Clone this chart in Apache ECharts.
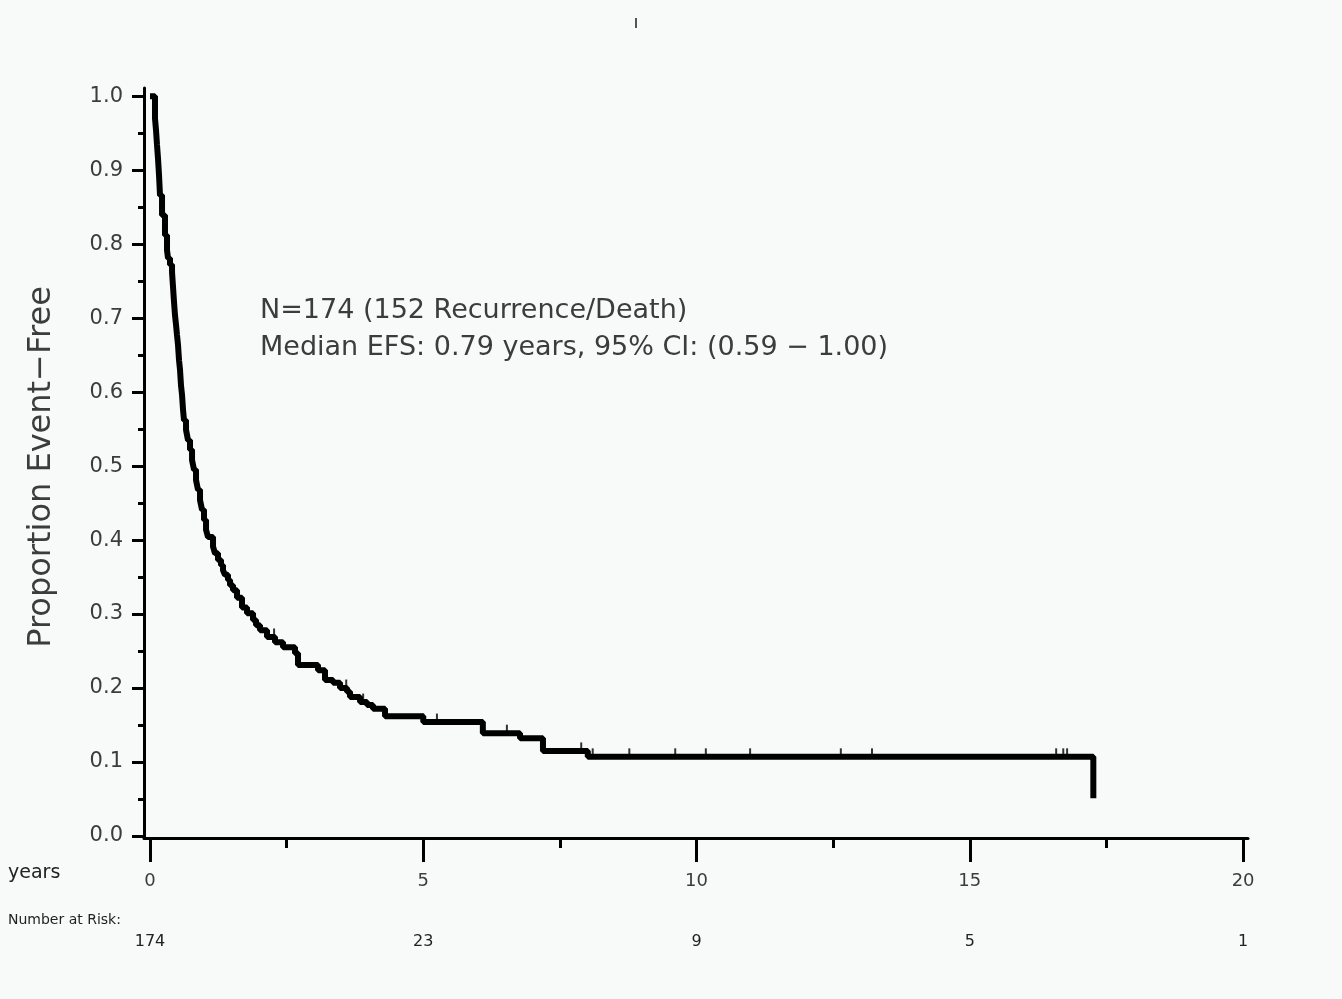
<!DOCTYPE html>
<html>
<head>
<meta charset="utf-8">
<title>Event-free survival</title>
<script src="https://cdn.jsdelivr.net/npm/echarts@6/dist/echarts.min.js"></script>
<style>
html, body { margin: 0; padding: 0; background: #f7faf8; }
#chart { width: 1342px; height: 999px; }
</style>
</head>
<body>
<div id="chart"></div>
<script>
// Kaplan-Meier steps (years, proportion event-free)
const eventTimes = [0, 0.091, 0.110, 0.128, 0.146, 0.165, 0.183, 0.220, 0.274, 0.311, 0.329, 0.366, 0.403, 0.421, 0.439, 0.457, 0.476, 0.494, 0.512, 0.531, 0.549, 0.567, 0.586, 0.604, 0.622, 0.659, 0.695, 0.732, 0.769, 0.805, 0.842, 0.878, 0.915, 0.951, 0.988, 1.025, 1.061, 1.153, 1.189, 1.244, 1.299, 1.336, 1.372, 1.427, 1.464, 1.519, 1.592, 1.683, 1.775, 1.885, 1.940, 2.013, 2.141, 2.287, 2.434, 2.653, 2.708, 3.074, 3.202, 3.349, 3.477, 3.605, 3.660, 3.843, 3.971, 4.080, 4.300, 5.00, 6.09, 6.77, 7.19, 8.01, 17.26]
const survival = [1.0, 0.970, 0.954, 0.934, 0.916, 0.893, 0.866, 0.839, 0.812, 0.792, 0.781, 0.772, 0.762, 0.742, 0.722, 0.704, 0.691, 0.677, 0.664, 0.643, 0.630, 0.609, 0.596, 0.576, 0.562, 0.549, 0.535, 0.522, 0.508, 0.495, 0.481, 0.468, 0.454, 0.441, 0.427, 0.414, 0.404, 0.391, 0.382, 0.373, 0.366, 0.359, 0.353, 0.346, 0.339, 0.332, 0.322, 0.309, 0.301, 0.292, 0.285, 0.278, 0.269, 0.262, 0.255, 0.247, 0.231, 0.224, 0.211, 0.207, 0.200, 0.195, 0.188, 0.181, 0.177, 0.172, 0.162, 0.154, 0.139, 0.132, 0.115, 0.107, 0.051]
const censorTimes = [2.27, 3.59, 3.90, 5.00, 5.25, 6.53, 7.89, 8.10, 8.77, 9.61, 10.17, 10.98, 12.64, 13.21, 16.58, 16.71, 16.78]

const xTicks = [0, 5, 10, 15, 20]
const xMinorTicks = [2.5, 7.5, 12.5, 17.5]
const yTicks = [0, 0.1, 0.2, 0.3, 0.4, 0.5, 0.6, 0.7, 0.8, 0.9, 1.0]
const yMinorTicks = [0.05, 0.15, 0.25, 0.35, 0.45, 0.55, 0.65, 0.75, 0.85, 0.95]
const atRisk = [174, 23, 9, 5, 1]

const textColor = '#3c3c3c'
const font = 'DejaVu Sans'

// value of the step curve at time t
function survAt (t) {
  let s = survival[0]
  for (let i = 0; i < eventTimes.length; i++) {
    if (eventTimes[i] <= t) s = survival[i]
  }
  return s
}

const chart = echarts.init(document.getElementById('chart'))
chart.setOption({
  animation: false,
  backgroundColor: '#f7faf8',
  grid: {
    left: 144,
    right: 94,
    top: 88,
    bottom: 161,
    containLabel: false,
    outerBoundsMode: 'none'
  },
  xAxis: [{
    type: 'value',
    min: -0.11,
    max: 20.09,
    position: 'bottom',
    splitLine: { show: false },
    axisLine: { onZero: false, lineStyle: { color: '#000', width: 3 } },
    axisTick: { customValues: xTicks, length: 24, lineStyle: { color: '#000', width: 3 } },
    axisLabel: {
      customValues: xTicks,
      margin: 34,
      color: textColor,
      fontFamily: font,
      fontSize: 18
    }
  }, {
    type: 'value',
    min: -0.11,
    max: 20.09,
    position: 'bottom',
    splitLine: { show: false },
    axisLine: { show: false, onZero: false },
    axisTick: { customValues: xMinorTicks, length: 10, lineStyle: { color: '#000', width: 3 } },
    axisLabel: { show: false }
  }, {
    type: 'value',
    min: -0.11,
    max: 20.09,
    position: 'bottom',
    offset: 88,
    splitLine: { show: false },
    axisLine: { show: false, onZero: false },
    axisTick: { show: false },
    axisLabel: {
      customValues: xTicks,
      margin: 8,
      color: '#222',
      fontFamily: font,
      fontSize: 16,
      formatter: v => String(atRisk[xTicks.indexOf(v)])
    }
  }],
  yAxis: [{
    type: 'value',
    min: -0.0027,
    max: 1.011,
    splitLine: { show: false },
    axisLine: { show: true, onZero: false, lineStyle: { color: '#000', width: 3 } },
    axisTick: { show: true, customValues: yTicks, length: 12, lineStyle: { color: '#000', width: 3 } },
    axisLabel: {
      customValues: yTicks,
      margin: 21,
      color: textColor,
      fontFamily: font,
      fontSize: 21,
      formatter: v => v.toFixed(1)
    }
  }, {
    type: 'value',
    min: -0.0027,
    max: 1.011,
    position: 'left',
    splitLine: { show: false },
    axisLine: { show: false, onZero: false },
    axisTick: { show: true, customValues: yMinorTicks, length: 6, lineStyle: { color: '#000', width: 3 } },
    axisLabel: { show: false }
  }],
  series: [{
    type: 'line',
    step: 'end',
    showSymbol: false,
    lineStyle: { color: '#000', width: 6 },
    data: eventTimes.map((t, i) => [t, survival[i]])
  }, {
    type: 'scatter',
    symbol: 'rect',
    symbolSize: [2, 9],
    symbolOffset: [0, -4],
    itemStyle: { color: '#000' },
    data: censorTimes.map(t => [t, survAt(t)])
  }],
  graphic: [{
    type: 'text',
    left: 260,
    top: 297,
    style: {
      text: 'N=174 (152 Recurrence/Death)',
      font: '27px "DejaVu Sans"',
      fill: textColor
    }
  }, {
    type: 'text',
    left: 260,
    top: 334,
    style: {
      text: 'Median EFS: 0.79 years, 95% CI: (0.59 − 1.00)',
      font: '27px "DejaVu Sans"',
      fill: textColor
    }
  }, {
    type: 'text',
    x: 42,
    y: 467,
    rotation: Math.PI / 2,
    style: {
      text: 'Proportion Event−Free',
      font: '32px "DejaVu Sans"',
      fill: textColor,
      align: 'center',
      verticalAlign: 'middle'
    }
  }, {
    type: 'text',
    left: 8,
    top: 864,
    style: {
      text: 'years',
      font: '19px "DejaVu Sans"',
      fill: '#222'
    }
  }, {
    type: 'text',
    left: 8,
    top: 913,
    style: {
      text: 'Number at Risk:',
      font: '14px "DejaVu Sans"',
      fill: '#222'
    }
  }, {
    type: 'rect',
    left: 635,
    top: 18,
    shape: { width: 2, height: 10 },
    style: { fill: '#555' }
  }]
})
</script>
</body>
</html>
